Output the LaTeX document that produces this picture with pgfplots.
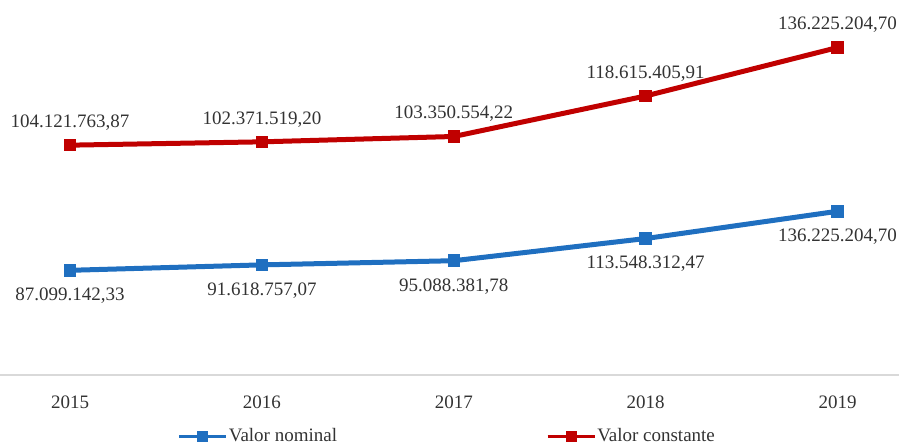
\documentclass[border=0pt]{standalone}
\usepackage{fontspec}
\setmainfont{Liberation Serif}
\usepackage{pgfplots}
\usepackage{pgfplotstable}
\pgfplotsset{compat=1.18}
\definecolor{cblue}{RGB}{31,111,192}
\definecolor{cred}{RGB}{192,0,0}
\pgfplotstableread{
x val lab
0 87.09914233 87.099.142,33
1 91.61875707 91.618.757,07
2 95.08838178 95.088.381,78
3 113.54831247 113.548.312,47
4 136.22520470 136.225.204,70
}\nominal
\pgfplotstableread{
x val lab
0 104.12176387 104.121.763,87
1 102.37151920 102.371.519,20
2 103.35055422 103.350.554,22
3 118.61540591 118.615.405,91
4 136.22520470 136.225.204,70
}\constante
\begin{document}
\begin{tikzpicture}[font=\fontsize{9.5}{11}\selectfont]
\begin{axis}[
  scale only axis, width=449.5pt, height=187.5pt,
  xmin=-0.365, xmax=4.32, ymin=0, ymax=312,
  axis x line=bottom, axis y line=none,
  x axis line style={-, draw=black!15, line width=0.8pt},
  xtick={0,1,2,3,4}, xticklabels={2015,2016,2017,2018,2019},
  major tick length=0pt,
  xticklabel style={yshift=-7pt, text=black!80},
  ytick=\empty,
  stack plots=y,
  clip=false,
  legend columns=2,
  legend style={at={(0.497,-0.164)}, anchor=center, draw=none, fill=none,
    font=\fontsize{9.5}{11}\selectfont,
    /tikz/every even column/.append style={column sep=104pt},
    nodes={inner sep=0.5pt, text=black!80}},
  legend image code/.code={\draw[mark repeat=2,mark phase=2,#1,line width=1.6pt] plot coordinates {(0pt,0pt) (11.75pt,0pt) (23.5pt,0pt)};},
  nodes near coords, point meta=explicit symbolic,
]
\addplot[cblue, line width=2.5pt, mark=square*, mark size=1.9pt,
  nodes near coords style={anchor=base, yshift=-15.2pt, text=black!80, font=\fontsize{9.5}{11}\selectfont}]
  table[x=x, y=val, meta=lab]{\nominal};
\addlegendentry{Valor nominal}
\addplot[cred, line width=2.5pt, mark=square*, mark size=1.9pt,
  nodes near coords style={anchor=base, yshift=8.8pt, text=black!80, font=\fontsize{9.5}{11}\selectfont}]
  table[x=x, y=val, meta=lab]{\constante};
\addlegendentry{Valor constante}
\end{axis}
\pgfresetboundingbox
\useasboundingbox (0,-35pt) rectangle (449.5pt,187.5pt);
\end{tikzpicture}
\end{document}
